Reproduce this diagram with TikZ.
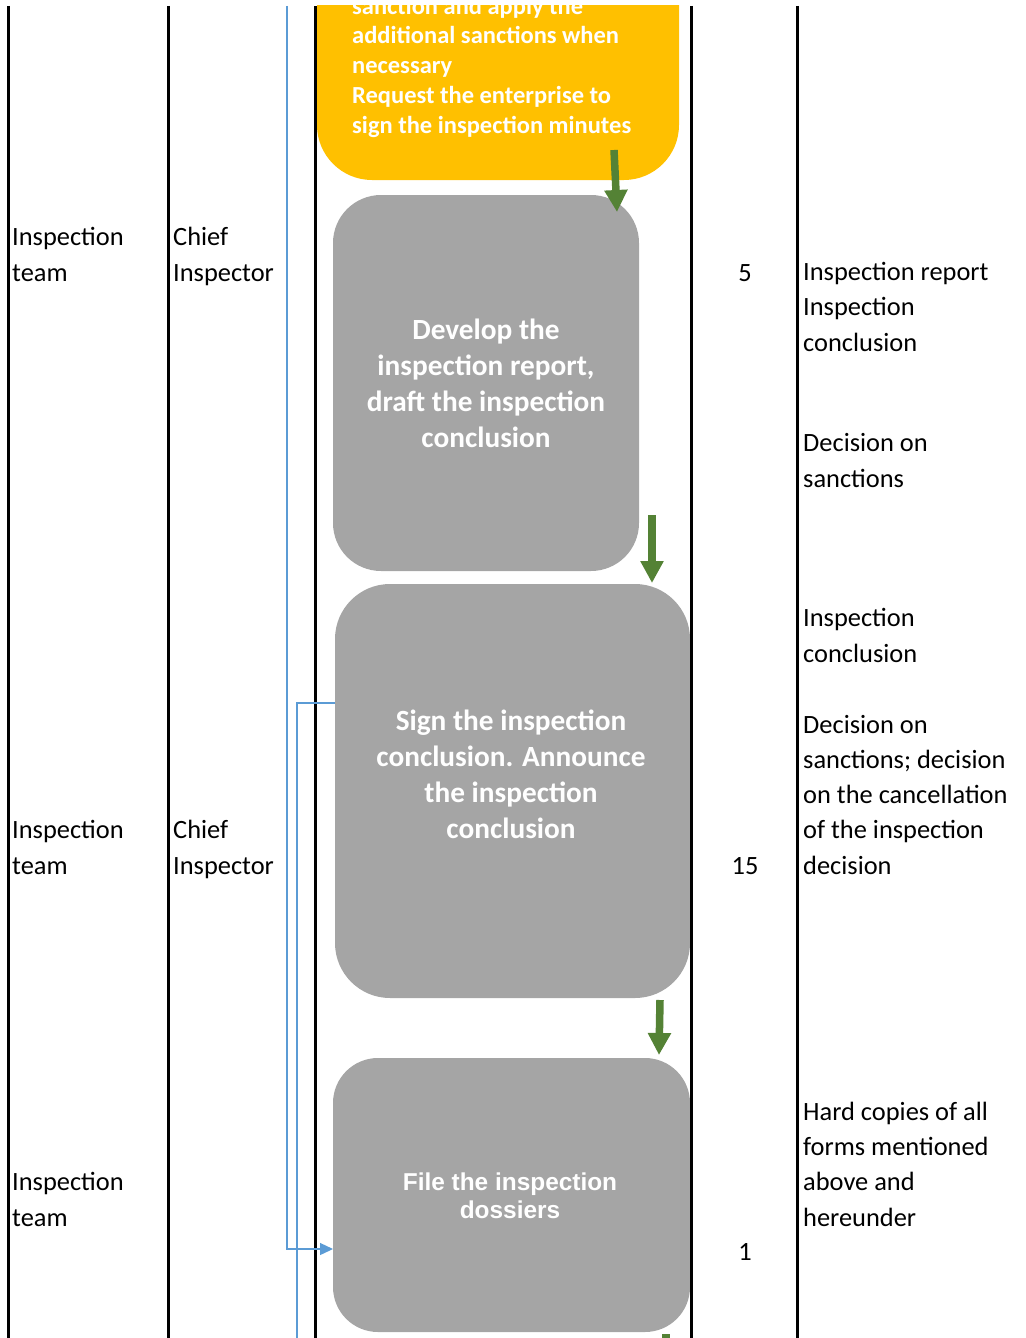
\documentclass[tikz,border=0pt]{standalone}
\usepackage{fontspec}
\setmainfont{Carlito}
\newfontfamily\arialfont{Liberation Sans}
\usetikzlibrary{arrows.meta}
\definecolor{boxgray}{HTML}{A5A5A5}
\definecolor{stepyellow}{HTML}{FFC000}
\definecolor{arrowgreen}{HTML}{548235}
\definecolor{linkblue}{HTML}{5B9BD5}

\begin{document}
\begin{tikzpicture}[x=1pt,y=-1pt,
	lane/.style={line width=3pt},
	celltxt/.style={anchor=base west,inner sep=0pt,align=left,font=\fontsize{26.4}{35.2}\selectfont},
	numtxt/.style={anchor=base,inner sep=0pt,font=\fontsize{26.4}{35.2}\selectfont},
	stepbox/.style={fill=boxgray,inner sep=0pt},
	boxtxt/.style={anchor=base,inner sep=0pt,align=center,text=white,font=\bfseries\fontsize{29.3}{36}\selectfont},
	greenarrow/.style={draw=arrowgreen,line width=7.5pt,-{Triangle[width=22pt,length=22pt]}},
	bluearrow/.style={draw=linkblue,line width=1.3pt}]
	\useasboundingbox (0,0) rectangle (1025,1338);
	\clip (0,6) rectangle (1025,1338);

	% process boxes
	\node[stepbox,fill=stepyellow,rounded corners=55pt,minimum width=362pt,minimum height=260pt] (sanction) at (498,50) {};
	\node[stepbox,rounded corners=48pt,minimum width=306pt,minimum height=376pt] (develop) at (486,383) {};
	\node[stepbox,rounded corners=55pt,minimum width=355pt,minimum height=414pt] (sign) at (512.5,791) {};
	\node[stepbox,rounded corners=45pt,minimum width=357pt,minimum height=274pt] (filing) at (511.5,1195) {};

	% (base = last line)
	\node[boxtxt,anchor=base west,align=left,font=\bfseries\fontsize{24.5}{29.7}\selectfont] (sanctiontxt) at (352,133)
		{sanction and apply the\\additional sanctions when\\necessary\\Request the enterprise to\\sign the inspection minutes};
	\node[boxtxt] (developtxt) at (486,447) {Develop the\\inspection report,\\draft the inspection\\conclusion};
	\node[boxtxt] (signtxt) at (511,838) {Sign the inspection\\conclusion. Announce\\the inspection\\conclusion};
	\node[boxtxt,font=\arialfont\bfseries\fontsize{24.4}{28}\selectfont] (filingtxt) at (510,1218) {File the inspection\\dossiers};

	% column rules
	\foreach \x in {8,168,315,691,797}
		\draw[lane] (\x,6) -- (\x,1338);

	% who, time and outputs
	\node[celltxt] (team1) at (12,281) {Inspection\\team};
	\node[celltxt] (chief1) at (173,281) {Chief\\Inspector};
	\node[numtxt] (days1) at (745,281) {5};
	\node[celltxt] (out1) at (803,351) {Inspection report\\Inspection\\conclusion};
	\node[celltxt] (out2) at (803,487) {Decision on\\sanctions};

	\node[celltxt] (team2) at (12,874) {Inspection\\team};
	\node[celltxt] (chief2) at (173,874) {Chief\\Inspector};
	\node[numtxt] (days2) at (745,874) {15};
	\node[celltxt] (out3) at (803,662) {Inspection\\conclusion};
	\node[celltxt] (out4) at (803,874) {Decision on\\sanctions; decision\\on the cancellation\\of the inspection\\decision};

	\node[celltxt] (team3) at (12,1226) {Inspection\\team};
	\node[numtxt] (days3) at (745,1260) {1};
	\node[celltxt] (out5) at (803,1226) {Hard copies of all\\forms mentioned\\above and\\hereunder};

	% blue links
	\coordinate (bluetop) at (287,6);
	\coordinate (bluein) at (333,1249);
	\coordinate (signout) at (335,703);
	\coordinate (bluebottom) at (297,1338);
	\draw[bluearrow,-{Triangle[width=12pt,length=13pt]}] (bluetop) |- (bluein);
	\draw[bluearrow] (signout) -| (bluebottom);

	% green flow arrows
	\coordinate (g1a) at (614,150);
	\coordinate (g1b) at (617,212);
	\coordinate (g2a) at (652,515);
	\coordinate (g2b) at (652,583);
	\coordinate (g3a) at (660,1000);
	\coordinate (g3b) at (659,1055);
	\coordinate (g4a) at (666,1334);
	\coordinate (g4b) at (666,1400);
	\draw[greenarrow] (g1a) -- (g1b);
	\draw[greenarrow] (g2a) -- (g2b);
	\draw[greenarrow] (g3a) -- (g3b);
	\draw[greenarrow] (g4a) -- (g4b);
\end{tikzpicture}
\end{document}
